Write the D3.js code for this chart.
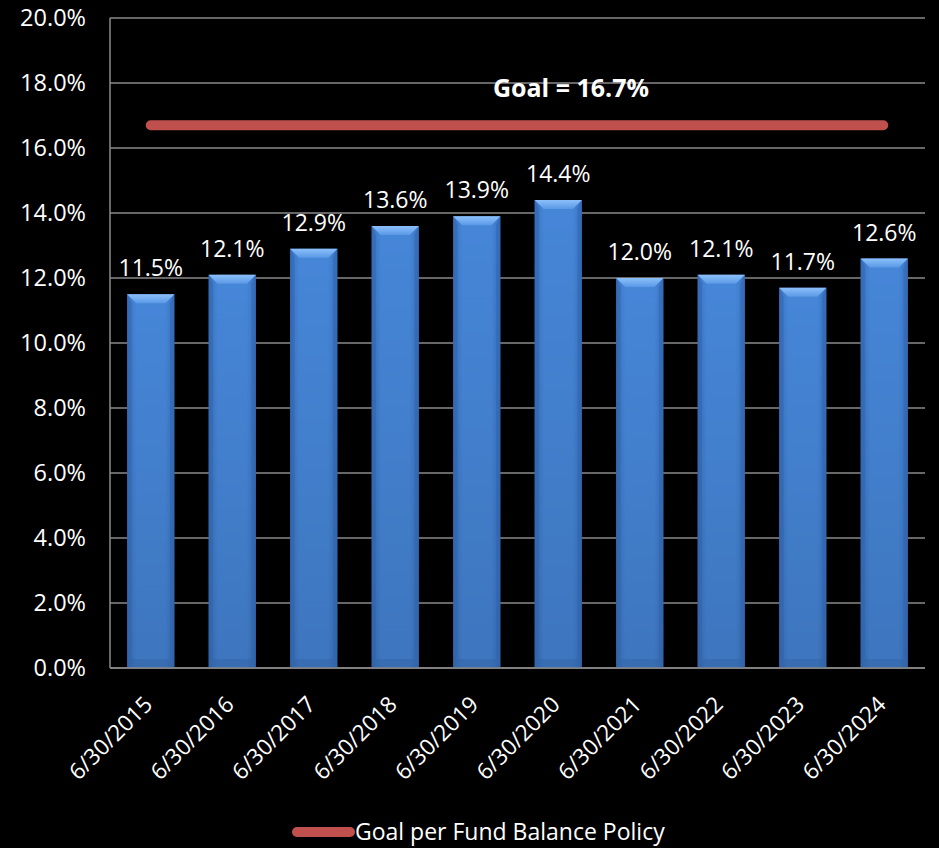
<!DOCTYPE html>
<html>
<head>
<meta charset="utf-8">
<script src="https://cdn.jsdelivr.net/npm/d3@7"></script>
<style>
  html, body { margin: 0; padding: 0; background: #000; }
  svg { display: block; }
  text { font-family: "Open Sans", "Lato", sans-serif; fill: #fff; }
</style>
</head>
<body>
<svg id="chart" width="939" height="848"></svg>
<script>
// Fund balance as a share of expenditures, by fiscal year end
const categories = ["6/30/2015", "6/30/2016", "6/30/2017", "6/30/2018", "6/30/2019",
                    "6/30/2020", "6/30/2021", "6/30/2022", "6/30/2023", "6/30/2024"];
const balancePct = [11.5, 12.1, 12.9, 13.6, 13.9, 14.4, 12.0, 12.1, 11.7, 12.6];
const goalPct = 16.7;
const yTicks = [0, 2, 4, 6, 8, 10, 12, 14, 16, 18, 20];
const goalLabel = "Goal = 16.7%";
const legendLabel = "Goal per Fund Balance Policy";

const svg = d3.select("#chart");
const plot = { left: 110, right: 925, top: 18, bottom: 668 };

const x = d3.scaleBand().domain(categories).range([plot.left, plot.right]).paddingInner(0.42).paddingOuter(0.21);
const y = d3.scaleLinear().domain([0, 20]).range([plot.bottom, plot.top]);

// Gradients for the bevelled bar faces
const defs = svg.append("defs");
const body = defs.append("linearGradient").attr("id", "barBody").attr("x1", 0).attr("x2", 1).attr("y1", 0).attr("y2", 0);
body.append("stop").attr("offset", "0%").attr("stop-color", "#3a73c2");
body.append("stop").attr("offset", "20%").attr("stop-color", "#4686d8");
body.append("stop").attr("offset", "80%").attr("stop-color", "#4686d8");
body.append("stop").attr("offset", "100%").attr("stop-color", "#3a73c2");
const topFace = defs.append("linearGradient").attr("id", "barTop").attr("x1", 0).attr("x2", 0).attr("y1", 0).attr("y2", 1);
topFace.append("stop").attr("offset", "0%").attr("stop-color", "#8cc0fa");
topFace.append("stop").attr("offset", "100%").attr("stop-color", "#5a98e6");
const vshade = defs.append("linearGradient").attr("id", "barShade").attr("x1", 0).attr("x2", 0).attr("y1", 0).attr("y2", 1);
vshade.append("stop").attr("offset", "0%").attr("stop-color", "#000").attr("stop-opacity", 0);
vshade.append("stop").attr("offset", "100%").attr("stop-color", "#000").attr("stop-opacity", 0.12);

// Horizontal gridlines
svg.append("g").selectAll("line").data(yTicks).join("line")
  .attr("x1", plot.left).attr("x2", plot.right)
  .attr("y1", d => y(d)).attr("y2", d => y(d))
  .attr("stroke", "#8a8a8a").attr("stroke-width", 1.5);

// Value axis line
svg.append("line")
  .attr("x1", plot.left).attr("x2", plot.left)
  .attr("y1", plot.top).attr("y2", plot.bottom)
  .attr("stroke", "#8a8a8a").attr("stroke-width", 1.5);

// Y tick labels
svg.append("g").selectAll("text").data(yTicks).join("text")
  .attr("x", 86).attr("y", d => y(d)).attr("dy", "0.35em")
  .attr("text-anchor", "end").attr("font-size", 23.5)
  .text(d => d.toFixed(1) + "%");

// Bars with a bevelled top and bottom
const bw = x.bandwidth();
const bev = 9;
const bars = svg.append("g").selectAll("g").data(balancePct).join("g")
  .attr("transform", (d, i) => `translate(${x(categories[i])},0)`);
bars.append("rect")
  .attr("x", 0).attr("width", bw)
  .attr("y", d => y(d)).attr("height", d => y(0) - y(d))
  .attr("fill", "url(#barBody)");
bars.append("rect")
  .attr("x", 0).attr("width", bw)
  .attr("y", d => y(d)).attr("height", d => y(0) - y(d))
  .attr("fill", "url(#barShade)");
// left and right side bevel edges
bars.append("path")
  .attr("d", d => `M0,${y(d)} L${bev * 0.5},${y(d) + bev} L${bev * 0.5},${y(0) - bev} L0,${y(0)} Z`)
  .attr("fill", "#2f62a8").attr("opacity", 0.45);
bars.append("path")
  .attr("d", d => `M${bw},${y(d)} L${bw - bev * 0.5},${y(d) + bev} L${bw - bev * 0.5},${y(0) - bev} L${bw},${y(0)} Z`)
  .attr("fill", "#2f62a8").attr("opacity", 0.45);
// bottom bevel
bars.append("path")
  .attr("d", d => `M0,${y(0)} L${bev * 0.5},${y(0) - bev} L${bw - bev * 0.5},${y(0) - bev} L${bw},${y(0)} Z`)
  .attr("fill", "#2d5e9f").attr("opacity", 0.35);
// top bevel face
bars.append("path")
  .attr("d", d => `M0,${y(d)} L${bw},${y(d)} L${bw - bev},${y(d) + bev} L${bev},${y(d) + bev} Z`)
  .attr("fill", "url(#barTop)");

// Category axis line
svg.append("line")
  .attr("x1", plot.left).attr("x2", plot.right)
  .attr("y1", plot.bottom).attr("y2", plot.bottom)
  .attr("stroke", "#8a8a8a").attr("stroke-width", 1.5);

// Value labels above bars
svg.append("g").selectAll("text").data(balancePct).join("text")
  .attr("x", (d, i) => x(categories[i]) + bw / 2)
  .attr("y", d => y(d) - 18)
  .attr("text-anchor", "middle").attr("font-size", 23)
  .text(d => d.toFixed(1) + "%");

// Rotated category labels
svg.append("g").selectAll("text").data(categories).join("text")
  .attr("transform", d => `translate(${x(d) + bw / 2 + 3},${plot.bottom + 38}) rotate(-45)`)
  .attr("text-anchor", "end").attr("font-size", 22.5)
  .text(d => d);

// Policy goal line, spanning the first to the last category
const goalX1 = x(categories[0]) + bw / 2;
const goalX2 = x(categories[categories.length - 1]) + bw / 2 - 1;
svg.append("line")
  .attr("x1", goalX1).attr("x2", goalX2)
  .attr("y1", y(goalPct)).attr("y2", y(goalPct))
  .attr("stroke", "#c0504d").attr("stroke-width", 10).attr("stroke-linecap", "round");

svg.append("text")
  .attr("x", 571).attr("y", y(goalPct) - 28)
  .attr("text-anchor", "middle").attr("font-size", 25).attr("font-weight", "bold")
  .text(goalLabel);

// Legend
svg.append("line")
  .attr("x1", 297).attr("x2", 350).attr("y1", 832).attr("y2", 832)
  .attr("stroke", "#c0504d").attr("stroke-width", 10).attr("stroke-linecap", "round");
svg.append("text")
  .attr("x", 355).attr("y", 832).attr("dy", "0.35em")
  .attr("font-size", 23)
  .text(legendLabel);
</script>
</body>
</html>
